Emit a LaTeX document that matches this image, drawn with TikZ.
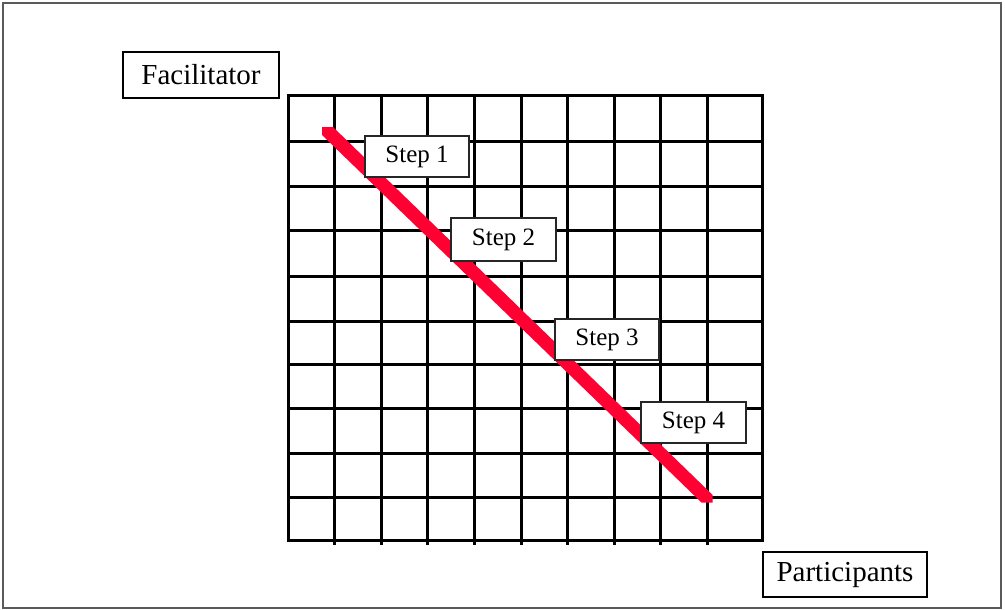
\documentclass[tikz,border=0pt]{standalone}
\usepackage{fontspec}
\setmainfont{Liberation Serif}
\definecolor{stepred}{RGB}{255,0,51}
\definecolor{framegray}{RGB}{90,90,90}
\tikzset{
  gridline/.style={line width=3pt, black},
  labelbox/.style={draw=black, line width=1.6pt, fill=white, inner sep=0pt,
    font=\fontsize{29}{34}\selectfont},
  stepbox/.style={draw=black!85, line width=1.6pt, fill=white, inner sep=0pt,
    minimum width=104pt, minimum height=41pt, font=\fontsize{25}{30}\selectfont},
}
\begin{document}
\begin{tikzpicture}[x=1pt, y=-1pt]
\useasboundingbox (0,0) rectangle (1005,610);
% outer frame
\draw[framegray, line width=1.5pt] (3,3) rectangle (1001,608);
% grid
\foreach \x in {334.6,381.2,427.8,474.4,521,567.6,614.2,660.8,707.4}
  \draw[gridline] (\x,95.5) -- (\x,544.5);
\foreach \y in {141,186,230.7,276,321,364,408,453,497.7}
  \draw[gridline] (288,\y) -- (762,\y);
\draw[gridline] (288,95.5) rectangle (762,540.5);
% red diagonal band
\fill[stepred] (322,127) -- (333,127) -- (712.7,495) -- (712.7,502.7)
  -- (701.7,502.7) -- (322,135) -- cycle;
% labels
\node[labelbox, minimum width=156pt, minimum height=46pt] (facilitator) at (201,75) {Facilitator};
\node[labelbox, minimum width=164pt, minimum height=45pt] (participants) at (845,574.5) {Participants};
% steps
\node[stepbox] (s1) at (417,156.5) {Step 1};
\node[stepbox, minimum width=105pt, minimum height=43pt] (s2) at (503.5,239.5) {Step 2};
\node[stepbox] (s3) at (607,339.5) {Step 3};
\node[stepbox, minimum width=105pt] (s4) at (693.5,422.5) {Step 4};
\end{tikzpicture}
\end{document}
